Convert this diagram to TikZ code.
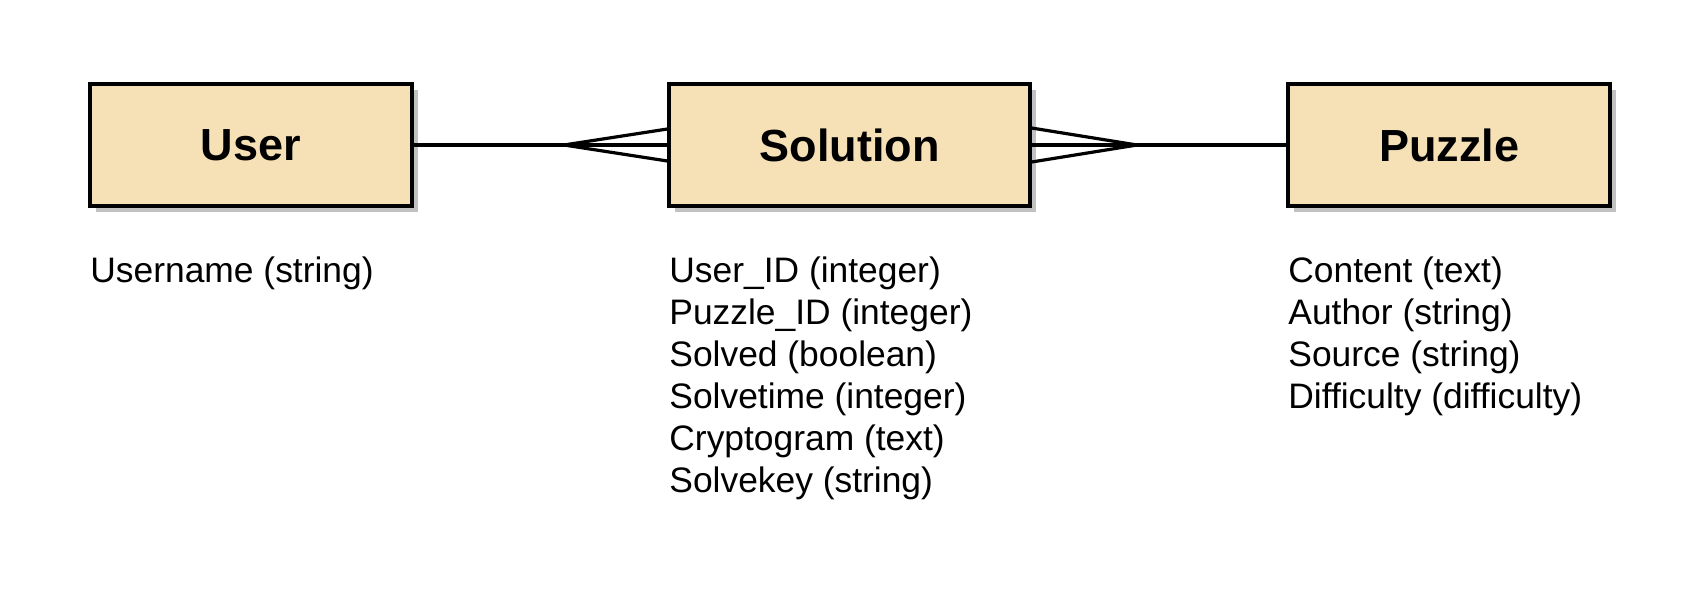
\documentclass[tikz,border=0pt]{standalone}
\usepackage{fontspec}
\setmainfont{Liberation Sans}
\usetikzlibrary{calc,shadows}
\definecolor{entfill}{HTML}{F6E0B6}
\tikzset{
  entity/.style={draw=black, line width=1.6pt, fill=entfill, minimum height=61pt,
    inner sep=0pt, font=\bfseries\fontsize{22.5pt}{26pt}\selectfont,
    drop shadow={shadow xshift=3pt, shadow yshift=-3pt, fill=black!35, opacity=0.7}},
  attrs/.style={anchor=north west, align=left, inner sep=0pt,
    font=\fontsize{17.7pt}{21pt}\selectfont},
  conn/.style={draw=black, line width=1.6pt}
}
\begin{document}
\begin{tikzpicture}[x=0.5pt, y=-0.5pt]
\useasboundingbox (0,0) rectangle (1700,600);
\node[entity, minimum width=161pt] (user) at (251,145) {User};
\node[entity, minimum width=180.5pt] (sol) at (849.5,145) {Solution};
\node[entity, minimum width=161pt] (puz) at (1449,145) {Puzzle};
% User -- Solution (many at Solution)
\coordinate (f1) at (564,145);
\draw[conn] (user.east) -- (f1);
\draw[conn] (f1) -- (sol.west);
\draw[conn] (f1) -- ($(sol.west)+(0,-16)$);
\draw[conn] (f1) -- ($(sol.west)+(0,16)$);
% Solution -- Puzzle (many at Solution)
\coordinate (f2) at (1137,145);
\draw[conn] (puz.west) -- (f2);
\draw[conn] (f2) -- (sol.east);
\draw[conn] (f2) -- ($(sol.east)+(0,-17)$);
\draw[conn] (f2) -- ($(sol.east)+(0,17)$);
% attributes
\node[attrs] (ua) at (90,256) {Username (string)};
\node[attrs] (sa) at (669,256) {User\_ID (integer)\\Puzzle\_ID (integer)\\Solved (boolean)\\Solvetime (integer)\\Cryptogram (text)\\Solvekey (string)};
\node[attrs] (pa) at (1288,256) {Content (text)\\Author (string)\\Source (string)\\Difficulty (difficulty)};
\end{tikzpicture}
\end{document}
